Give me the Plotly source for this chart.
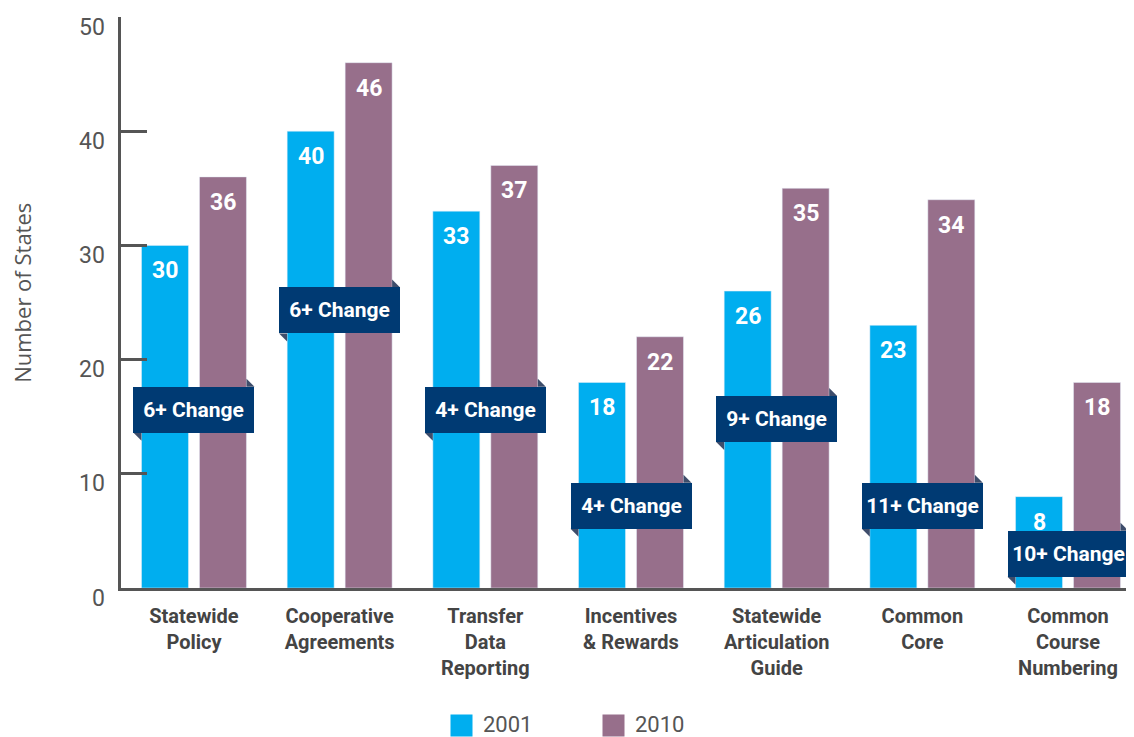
import plotly.graph_objects as go

categories = ["Statewide<br>Policy", "Cooperative<br>Agreements", "Transfer<br>Data<br>Reporting",
              "Incentives<br>& Rewards", "Statewide<br>Articulation<br>Guide", "Common<br>Core",
              "Common<br>Course<br>Numbering"]
values_2001 = [30, 40, 33, 18, 26, 23, 8]
values_2010 = [36, 46, 37, 22, 35, 34, 18]
change_labels = ["6+ Change", "6+ Change", "4+ Change", "4+ Change", "9+ Change", "11+ Change", "10+ Change"]
change_label_y = [15.6, 24.3, 15.6, 7.2, 14.8, 7.2, 3.0]
y_ticks = [0, 10, 20, 30, 40, 50]
series_names = ["2001", "2010"]

C2001 = "#00AEEF"
C2010 = "#976F8B"
NAVY = "#003A73"
FOLD = "#3E4D6B"
GRAY = "#555555"

BARGAP = 0.204
off = (1 - BARGAP) / 4
xs = list(range(len(categories)))

fig = go.Figure()
fig.add_trace(go.Bar(x=xs, y=values_2001, name=series_names[0], marker_color=C2001, showlegend=False))
fig.add_trace(go.Bar(x=xs, y=values_2010, name=series_names[1], marker_color=C2010, showlegend=False))

ann = []
# value labels
for i in xs:
    for v, dx in ((values_2001[i], -off), (values_2010[i], off)):
        ann.append(dict(x=i + dx, y=v, xref="x", yref="y", text=f"<b>{v}</b>", showarrow=False,
                        xanchor="center", yanchor="top", yshift=-10,
                        font=dict(family="Roboto", size=23, color="white")))
# change labels
shapes = []
HW, HH, F = 60.5, 23, 8
for i in xs:
    ann.append(dict(x=i, y=change_label_y[i], xref="x", yref="y", text=f"<b>{change_labels[i]}</b>",
                    showarrow=False, bgcolor=NAVY, width=113, height=38, borderpad=4, borderwidth=0,
                    xanchor="center", yanchor="middle",
                    font=dict(family="Roboto", size=21, color="white")))
    shapes.append(dict(type="path", xref="x", yref="y", xsizemode="pixel", ysizemode="pixel",
                       xanchor=i, yanchor=change_label_y[i],
                       path=f"M{HW-F},{HH+F} L{HW},{HH} L{HW-F},{HH} Z",
                       fillcolor=FOLD, line=dict(width=0), layer="above"))
    shapes.append(dict(type="path", xref="x", yref="y", xsizemode="pixel", ysizemode="pixel",
                       xanchor=i, yanchor=change_label_y[i],
                       path=f"M{-HW},{-HH} L{-HW+F},{-HH} L{-HW+F},{-HH-F} Z",
                       fillcolor=FOLD, line=dict(width=0), layer="above"))
# y tick labels (shifted down as in the reference)
for t in y_ticks:
    ann.append(dict(x=0, y=t, xref="paper", yref="y", text=str(t), showarrow=False,
                    xanchor="right", yanchor="middle", xshift=-14, yshift=-10,
                    font=dict(family="Roboto", size=23, color=GRAY)))
# y title
ann.append(dict(x=-0.0977, y=0.517, xref="paper", yref="paper", text="Number of States", textangle=-90,
                showarrow=False, xanchor="center", yanchor="middle",
                font=dict(family="Open Sans", size=22, color=GRAY)))
# legend
leg_x = [0.336, 0.4857]
for name, col, lx in zip(series_names, [C2001, C2010], leg_x):
    ann.append(dict(x=lx, y=-0.240, xref="paper", yref="paper", text=" ", showarrow=False,
                    xanchor="center", yanchor="middle",
                    bgcolor=col, width=21, height=21, borderpad=0))
    ann.append(dict(x=lx + 0.0207, y=-0.238, xref="paper", yref="paper", text=name, showarrow=False,
                    xanchor="left", yanchor="middle", height=22, borderpad=0,
                    font=dict(family="Roboto", size=22, color=GRAY)))

# page body has an 8px default margin, so the figure is 8px smaller and margins compensate
fig.update_layout(
    width=1126, height=729,
    margin=dict(l=113, r=0, t=9, b=149),
    plot_bgcolor="white", paper_bgcolor="white",
    barmode="group", bargap=BARGAP, bargroupgap=0.19,
    annotations=ann, shapes=shapes,
    xaxis=dict(range=[-0.501, 6.453], tickvals=xs, ticktext=[f"<b>{c}</b>" for c in categories],
               showline=True, linecolor=GRAY, linewidth=2.5, ticks="", showgrid=False, zeroline=False,
               tickfont=dict(family="Roboto", size=20, color="#444444"), ticklabelstandoff=8),
    yaxis=dict(range=[0, 50], tickvals=y_ticks, showticklabels=False, ticks="inside", ticklen=26,
               tickwidth=2.5, tickcolor=GRAY, showline=True, linecolor=GRAY, linewidth=2.5,
               showgrid=False, zeroline=False),
)
fig.write_html("out.html")
